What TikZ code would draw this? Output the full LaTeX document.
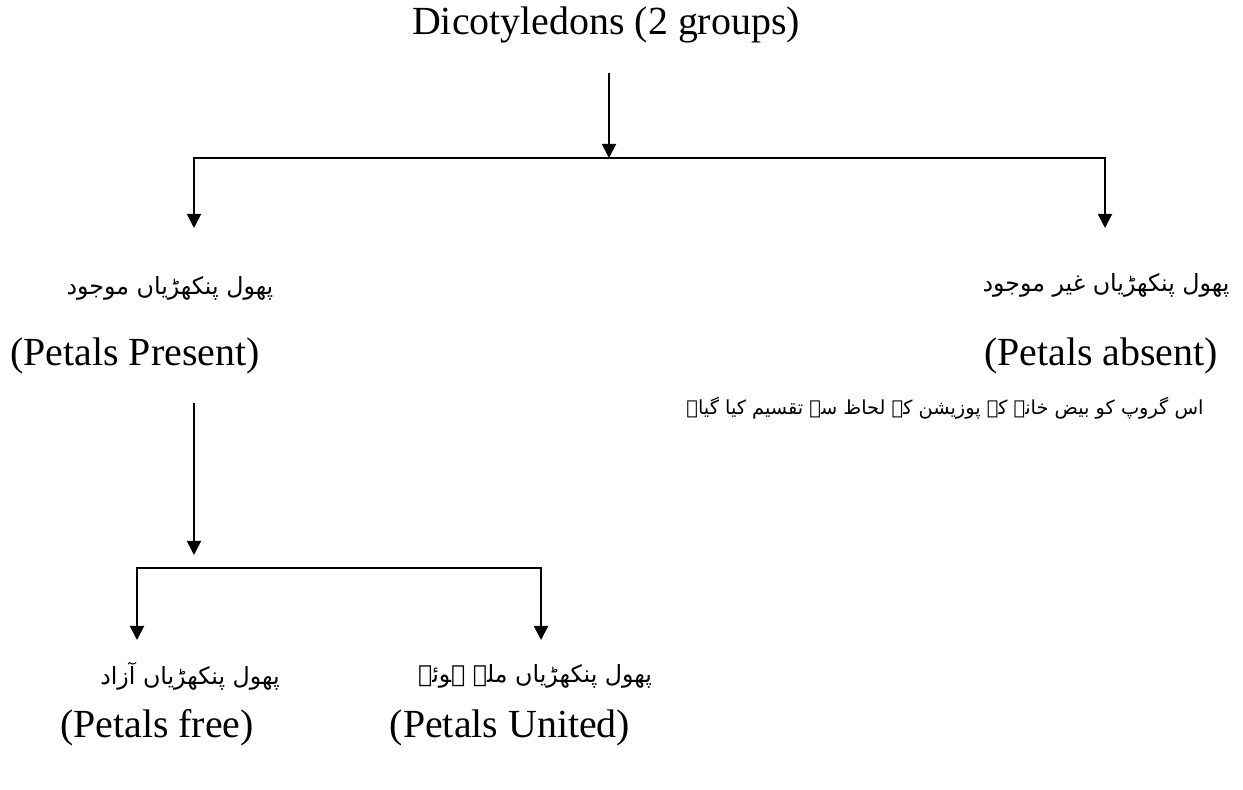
\documentclass[tikz,border=0pt]{standalone}
\usepackage{fontspec}
\setmainfont{Liberation Serif}
\newfontfamily\urdu[Script=Arabic]{DejaVu Sans}
\TeXXeTstate=1
\usetikzlibrary{arrows.meta}

\begin{document}
\begin{tikzpicture}[>={Triangle[length=8pt,width=8pt]},x=0.02cm,y=-0.02cm,line width=1.1pt,
  en/.style={font=\fontsize{22.7}{26}\selectfont},
  ur/.style={font=\fontsize{13.5}{18}\urdu}]
\useasboundingbox (0,0) rectangle (1243,790);
% first split
\node[en] (dico) at (606,25) {Dicotyledons (2 groups)};
\coordinate (dtop) at (609,73);
\coordinate (fork) at (609,158);
\draw[->] (dtop) -- (fork);
\coordinate (pres) at (194,228);
\coordinate (abs) at (1105,228);
\draw[<->] (pres) |- (fork) -| (abs);
\node[ur] (presur) at (170,288) {\beginR پھول پنکھڑیاں موجود\endR};
\node[en] (presen) at (135,356) {(Petals Present)};
\node[ur] (absur) at (1106,285) {\beginR پھول پنکھڑیاں غیر موجود\endR};
\node[en] (absen) at (1101,356) {(Petals absent)};
\node[ur,font=\fontsize{11}{14}\urdu] (absnote) at (945,408) {\beginR اس گروپ کو بیض خانے کے پوزیشن کے لحاظ سے تقسیم کیا گیا۔\endR};
% second split
\coordinate (ptop) at (194,403);
\coordinate (pend) at (194,555);
\draw[->] (ptop) -- (pend);
\coordinate (fork2) at (194,568);
\coordinate (free) at (137,640);
\coordinate (unit) at (541,640);
\draw[<->] (free) |- (fork2) -| (unit);
\node[ur] (freeur) at (190,676) {\beginR پھول پنکھڑیاں آزاد\endR};
\node[ur] (unitur) at (535,676) {\beginR پھول پنکھڑیاں ملے ہوئے\endR};
\node[en] (freeen) at (157,728) {(Petals free)};
\node[en] (uniten) at (510,728) {(Petals United)};
\end{tikzpicture}
\end{document}
